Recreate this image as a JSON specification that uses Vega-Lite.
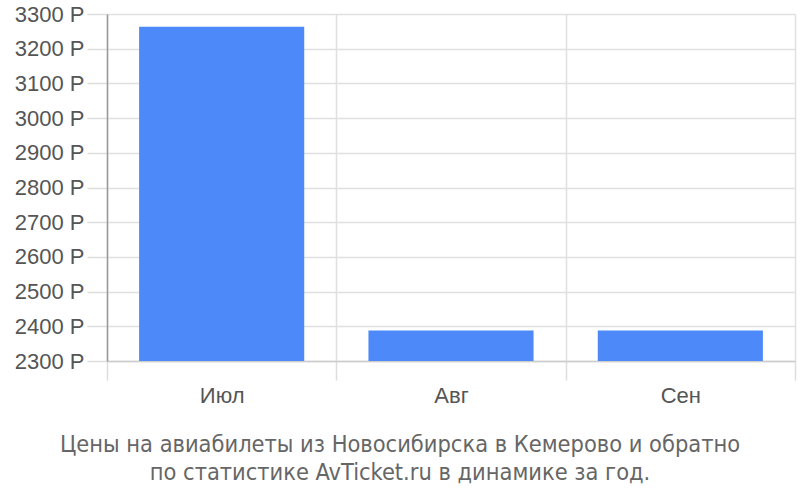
{
  "$schema": "https://vega.github.io/schema/vega-lite/v6.json",
  "autosize": "none",
  "width": 688,
  "height": 347,
  "padding": {"left": 107, "top": 14, "right": 5, "bottom": 139},
  "background": "white",
  "config": {
    "font": "Liberation Sans",
    "view": {"stroke": null},
    "axis": {
      "labelFont": "Liberation Sans",
      "labelFontSize": 22,
      "labelColor": "#555555",
      "gridColor": "#e0e0e0",
      "gridWidth": 1.5,
      "tickColor": "#dddddd",
      "tickWidth": 1.5
    }
  },
  "title": {
    "text": [
      "Цены на авиабилеты из Новосибирска в Кемерово и обратно",
      "по статистике AvTicket.ru в динамике за год."
    ],
    "orient": "bottom",
    "anchor": "middle",
    "dx": -51,
    "font": "DejaVu Sans Condensed, Liberation Sans",
    "fontSize": 23.4,
    "fontWeight": "normal",
    "color": "#666666",
    "lineHeight": 28,
    "offset": 28
  },
  "data": {
    "values": [
      {"month": "Июл", "price": 3263},
      {"month": "Авг", "price": 2388},
      {"month": "Сен", "price": 2388}
    ]
  },
  "mark": {"type": "bar", "color": "#4d89f9", "width": {"band": 0.72}, "clip": true},
  "encoding": {
    "x": {
      "field": "month",
      "type": "nominal",
      "sort": null,
      "title": null,
      "scale": {"paddingInner": 0, "paddingOuter": 0},
      "axis": {
        "labelAngle": 0,
        "tickBand": "extent",
        "grid": true,
        "tickSize": 19,
        "labelPadding": 5,
        "domainColor": "#cccccc",
        "domainWidth": 1.5
      }
    },
    "y": {
      "field": "price",
      "type": "quantitative",
      "title": null,
      "scale": {"domain": [2300, 3300], "nice": false, "zero": false},
      "axis": {
        "values": [2300, 2400, 2500, 2600, 2700, 2800, 2900, 3000, 3100, 3200, 3300],
        "labelExpr": "datum.value + ' Р'",
        "tickSize": 20,
        "labelPadding": 3,
        "domainColor": "#999999",
        "domainWidth": 1.5
      }
    }
  }
}
